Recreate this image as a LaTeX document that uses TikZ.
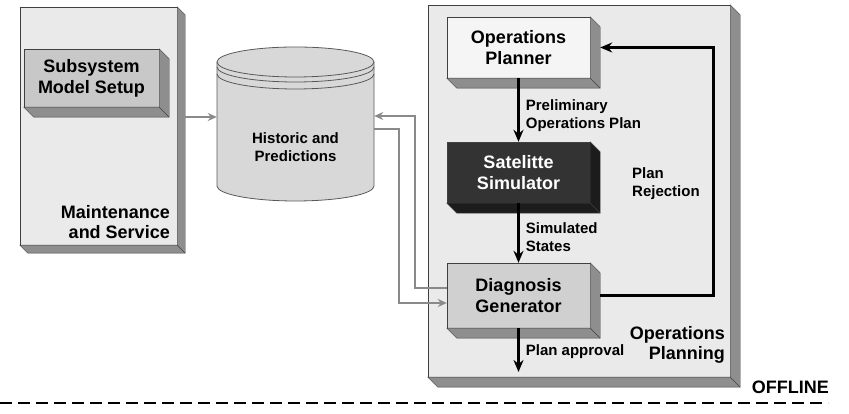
\documentclass[tikz,border=0pt]{standalone}
\usepackage{fontspec}
\setmainfont{Liberation Sans}
\usetikzlibrary{arrows.meta}
\definecolor{panelgray}{HTML}{EAEAEA}
\definecolor{sidegray}{HTML}{8E8E8E}
\definecolor{setupgray}{HTML}{C8C8C8}
\definecolor{plannergray}{HTML}{F5F5F5}
\definecolor{simdark}{HTML}{333333}
\definecolor{simside}{HTML}{1C1C1C}
\definecolor{diaggray}{HTML}{D0D0D0}
\definecolor{cylgray}{HTML}{D8D8D8}
\definecolor{linkgray}{HTML}{8A8A8A}

\begin{document}
\begin{tikzpicture}[x=1pt, y=1pt, >={Stealth[length=12pt, width=10pt]},
    box/.style={draw=black!75, inner sep=0pt, align=center,
      font=\bfseries\fontsize{18}{21}\selectfont},
    lbl/.style={inner sep=1pt, align=left, font=\bfseries\fontsize{15}{18}\selectfont},
    biglbl/.style={inner sep=0pt, align=right, font=\bfseries\fontsize{18}{20}\selectfont},
    flow/.style={->, line width=2.8pt},
    feed/.style={-{Stealth[length=9pt, width=8pt]}, linkgray, line width=2pt}]
        \useasboundingbox (0,0) rectangle (849,414);
        % Panels
        \node[box, fill=panelgray, minimum width=157pt, minimum height=238pt]
          (mnt) at (98.5,288) {};
        \node[box, fill=panelgray, minimum width=302pt, minimum height=372pt]
          (ops) at (579,223) {};
        \node[box, fill=setupgray, minimum width=135pt, minimum height=58pt]
          (setup) at (91.5,336) {Subsystem\\Model Setup};
        \node[box, fill=plannergray, minimum width=143pt, minimum height=61pt]
          (plan) at (518.5,366.5) {Operations\\Planner};
        \node[box, fill=simdark, text=white, minimum width=143pt, minimum height=61pt]
          (sim) at (518.5,241.5) {Satelitte\\Simulator};
        \node[box, fill=diaggray, minimum width=143pt, minimum height=65pt]
          (diag) at (518.5,118.5) {Diagnosis\\Generator};
        % 3D edges
        \foreach \n/\d/\c in {mnt/8/sidegray, ops/10/sidegray, setup/10/sidegray,
            plan/10/sidegray, sim/10/simside, diag/10/sidegray} {
          \filldraw[fill=\c, draw=black!75] (\n.north east) -- ++(\d,-\d)
            -- ([shift={(\d,-\d)}]\n.south east) -- ([shift={(\d,-\d)}]\n.south west)
            -- (\n.south west) -- (\n.south east) -- cycle;
          \draw[black!75] (\n.south east) -- ++(\d,-\d);
        }
        % Database
        \filldraw[fill=cylgray, draw=black!65, line width=0.8pt] (217,352) -- (217,228)
          arc[start angle=180, end angle=360, x radius=78.5, y radius=15] -- (374,352)
          arc[start angle=0, end angle=180, x radius=78.5, y radius=15] -- cycle;
        \foreach \dy in {0,5,12}
          \draw[black!65, line width=0.8pt] (217,352-\dy)
            arc[start angle=180, end angle=360, x radius=78.5, y radius=15];
        \node[lbl, align=center, minimum width=157pt] (hist) at (295.5,267)
          {Historic and\\Predictions};
        % Panel titles
        \node[biglbl, anchor=east] (mntlbl) at (170,192) {Maintenance\\and Service};
        \node[biglbl, anchor=east] (opslbl) at (725,69) {Operations\\Planning};
        \node[biglbl, anchor=east] (offline) at (829,27) {OFFLINE};
        \draw[line width=2pt, dash pattern=on 12pt off 6pt] (0,11) -- (828,11);
        % Planning chain
        \draw[flow] (plan) -- (sim)
          node[lbl, midway, anchor=west, xshift=5pt, yshift=-6pt] {Preliminary\\Operations Plan};
        \draw[flow] (sim) -- (diag)
          node[lbl, midway, anchor=west, xshift=5pt, yshift=-4pt] {Simulated\\States};
        \coordinate (approved) at (518.5,42);
        \draw[flow] (diag) -- (approved)
          node[lbl, midway, anchor=west, xshift=5pt, yshift=-2pt] {Plan approval};
        % Rejection loop
        \draw[flow] ([xshift=10pt]diag.east) -- ++(113,0) |- ([xshift=10pt]plan.east);
        \node[lbl, anchor=west] (rejlbl) at (631,230) {Plan\\Rejection};
        % Data links
        \coordinate (histin) at ([yshift=30pt]hist.west);
        \draw[feed] ([xshift=8pt]mnt.east |- histin) -- (histin);
        \draw[feed] ([yshift=7.5pt]diag.west) -- ++(-32,0) |- ([yshift=31pt]hist.east);
        \draw[feed] ([yshift=18pt]hist.east) -- ++(25,0) |- ([yshift=-7.5pt]diag.west);
      \end{tikzpicture}
\end{document}
